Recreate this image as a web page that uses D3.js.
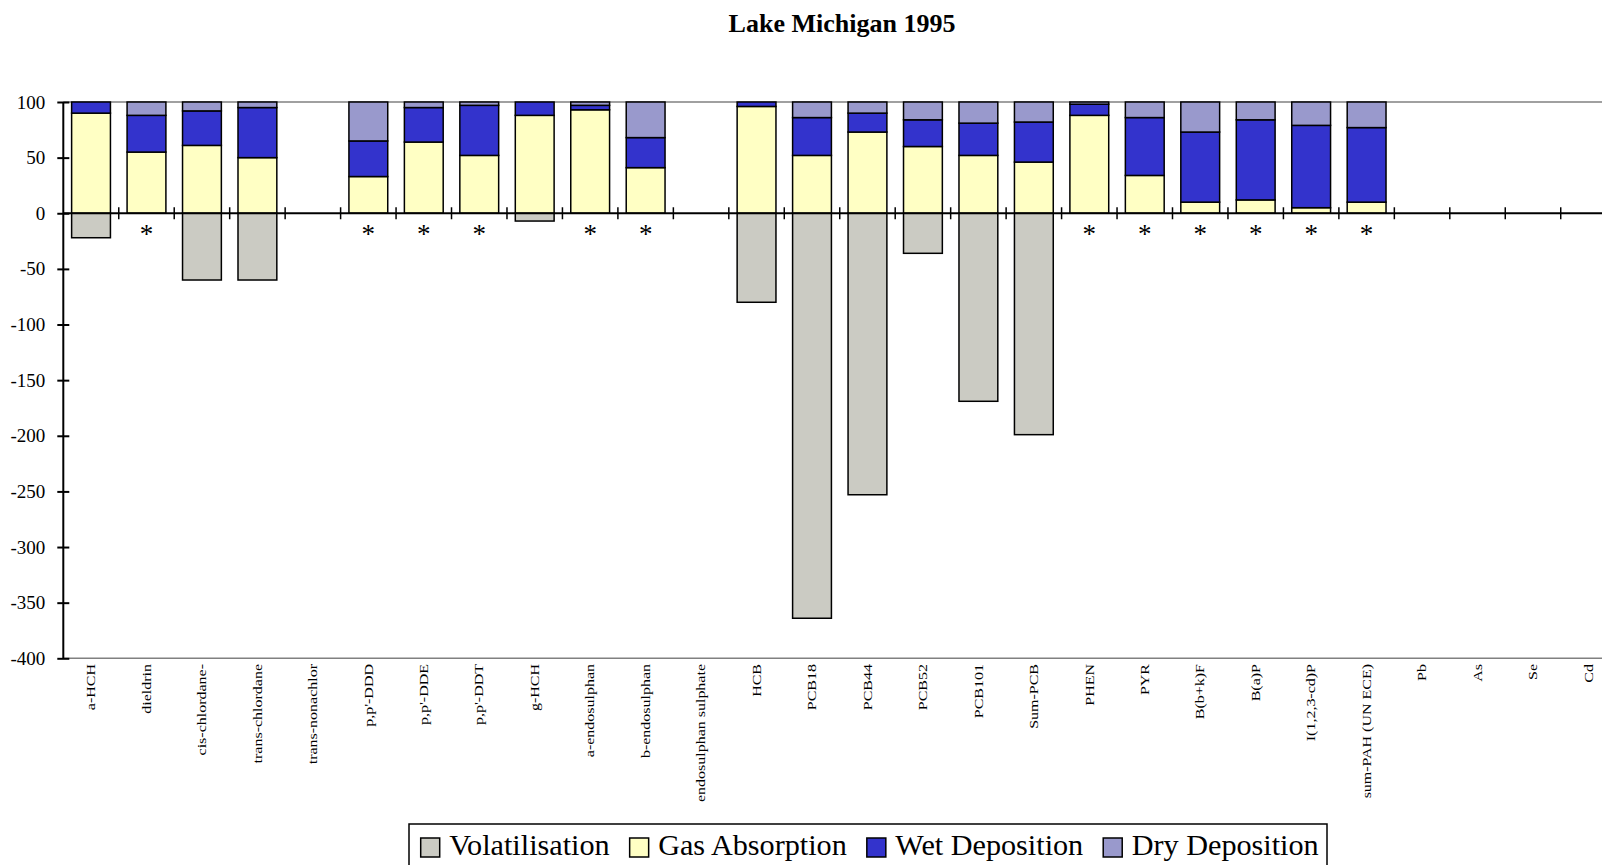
<!DOCTYPE html>
<html>
<head>
  <meta charset="utf-8">
  <title>Lake Michigan 1995</title>
  <script type="text/javascript" src="https://d3js.org/d3.v7.min.js"></script>
  <style>
    body { margin: 0; background: #fff; }
    text { font-family: "Times New Roman", "Liberation Serif", serif; fill: #000; }
  </style>
</head>
<body>
  <div class="chart"></div>

  <script type="text/javascript">
    // compounds along the x axis
    var categories = ["a-HCH", "dieldrin", "cis-chlordane-", "trans-chlordane", "trans-nonachlor",
      "p,p'-DDD", "p,p'-DDE", "p,p'-DDT", "g-HCH", "a-endosulphan", "b-endosulphan",
      "endosulphan sulphate", "HCB", "PCB18", "PCB44", "PCB52", "PCB101", "Sum-PCB",
      "PHEN", "PYR", "B(b+k)F", "B(a)P", "I(1,2,3-cd)P", "sum-PAH (UN ECE)", "Pb", "As", "Se", "Cd"];

    var volatilisation = [-22, 0, -60, -60, 0, 0, 0, 0, -7, 0, 0, 0, -80, -364, -253, -36, -169, -199, 0, 0, 0, 0, 0, 0, 0, 0, 0, 0];
    var gasAbsorption  = [90, 55, 61, 50, 0, 33, 64, 52, 88, 93, 41, 0, 96, 52, 73, 60, 52, 46, 88, 34, 10, 12, 5, 10, 0, 0, 0, 0];
    var wetDeposition  = [10, 33, 31, 45, 0, 32, 31, 45, 12, 4, 27, 0, 4, 34, 17, 24, 29, 36, 10, 52, 63, 72, 74, 67, 0, 0, 0, 0];
    var dryDeposition  = [0, 12, 8, 5, 0, 35, 5, 3, 0, 3, 32, 0, 0, 14, 10, 16, 19, 18, 2, 14, 27, 16, 21, 23, 0, 0, 0, 0];

    // compounds marked with an asterisk under the zero line
    var starred = ["dieldrin", "p,p'-DDD", "p,p'-DDE", "p,p'-DDT", "a-endosulphan", "b-endosulphan",
      "PHEN", "PYR", "B(b+k)F", "B(a)P", "I(1,2,3-cd)P", "sum-PAH (UN ECE)"];

    var yTicks = [100, 50, 0, -50, -100, -150, -200, -250, -300, -350, -400];

    var seriesNames = ["Volatilisation", "Gas Absorption", "Wet Deposition", "Dry Deposition"];
    var seriesColors = ["#cbcbc3", "#ffffc4", "#3333cc", "#9999cc"];

    const width = 1602;
    const height = 865;
    const left = 63.3;
    const step = 55.46;

    var rows = categories.map(function(c, i) {
      return {
        name: c,
        "Volatilisation": volatilisation[i],
        "Gas Absorption": gasAbsorption[i],
        "Wet Deposition": wetDeposition[i],
        "Dry Deposition": dryDeposition[i]
      };
    });

    var stacked = d3.stack()
      .keys(seriesNames)
      .offset(d3.stackOffsetDiverging)(rows);

    var x = d3.scaleBand()
      .domain(categories)
      .range([left, left + step * categories.length])
      .paddingInner(0.3)
      .paddingOuter(0.15);

    var y = d3.scaleLinear()
      .domain([-400, 100])
      .range([658.3, 102]);

    var color = d3.scaleOrdinal().domain(seriesNames).range(seriesColors);

    const svg = d3.select('.chart')
      .append('svg')
      .attr('width', width)
      .attr('height', height);

    // title
    svg.append("text")
      .attr("x", 842)
      .attr("y", 32)
      .attr("text-anchor", "middle")
      .attr("font-size", "26px")
      .attr("font-weight", "bold")
      .text("Lake Michigan 1995");

    // plot frame lines (top and bottom)
    svg.append("line")
      .attr("x1", left).attr("x2", width)
      .attr("y1", y(100)).attr("y2", y(100))
      .attr("stroke", "#808080").attr("stroke-width", 1.5);
    svg.append("line")
      .attr("x1", left).attr("x2", width)
      .attr("y1", y(-400)).attr("y2", y(-400))
      .attr("stroke", "#808080").attr("stroke-width", 1.5);

    // stacked bars
    svg.selectAll("g.series")
      .data(stacked)
      .enter()
      .append("g")
      .attr("class", "series")
      .attr("fill", d => color(d.key))
      .selectAll("rect")
      .data(d => d.filter(s => s[1] - s[0] != 0))
      .enter()
      .append("rect")
      .attr("x", d => x(d.data.name))
      .attr("y", d => y(d[1]))
      .attr("width", x.bandwidth())
      .attr("height", d => y(d[0]) - y(d[1]))
      .attr("stroke", "#000")
      .attr("stroke-width", 1.5);

    // zero line with category tick marks
    svg.append("line")
      .attr("x1", left).attr("x2", width)
      .attr("y1", y(0)).attr("y2", y(0))
      .attr("stroke", "#000").attr("stroke-width", 2);

    svg.selectAll("line.cattick")
      .data(categories.slice(1))
      .enter()
      .append("line")
      .attr("class", "cattick")
      .attr("x1", d => x(d) - x.step() * 0.15)
      .attr("x2", d => x(d) - x.step() * 0.15)
      .attr("y1", y(0) - 6)
      .attr("y2", y(0) + 6)
      .attr("stroke", "#000")
      .attr("stroke-width", 1.5);

    // asterisks
    svg.selectAll("text.star")
      .data(starred)
      .enter()
      .append("text")
      .attr("class", "star")
      .attr("x", d => x(d) + x.bandwidth() / 2)
      .attr("y", y(0) + 30)
      .attr("text-anchor", "middle")
      .attr("font-size", "27px")
      .attr("fill", "#222")
      .text("*");

    // y axis
    var yAxis = svg.append("g")
      .attr("transform", "translate(" + left + ",0)")
      .call(d3.axisLeft(y).tickValues(yTicks).tickFormat(d => String(d)).tickSize(6).tickPadding(12));
    yAxis.select(".domain")
      .attr("stroke", "#000").attr("stroke-width", 2)
      .attr("d", "M0," + y(100) + "V" + y(-400));
    yAxis.selectAll(".tick line")
      .attr("x1", 6)
      .attr("stroke", "#000").attr("stroke-width", 2);
    yAxis.selectAll(".tick text")
      .attr("font-size", "19px")
      .attr("font-family", "'Times New Roman', 'Liberation Serif', serif")
      .attr("fill", "#000");

    // category labels, rotated
    svg.selectAll("text.cat")
      .data(categories)
      .enter()
      .append("text")
      .attr("class", "cat")
      .attr("transform", d => "translate(" + (x(d) + x.bandwidth() / 2) + ",664) rotate(-90) scale(1,0.75)")
      .attr("text-anchor", "end")
      .attr("dy", "0.35em")
      .attr("font-size", "16px")
      .text(d => d);

    // legend
    var legend = svg.append("g");
    legend.append("rect")
      .attr("x", 409).attr("y", 824)
      .attr("width", 918).attr("height", 60)
      .attr("fill", "#fff")
      .attr("stroke", "#000").attr("stroke-width", 1.5);

    var lx = 420.7;
    seriesNames.forEach(function(name) {
      legend.append("rect")
        .attr("x", lx).attr("y", 838)
        .attr("width", 19).attr("height", 19)
        .attr("fill", color(name))
        .attr("stroke", "#000").attr("stroke-width", 1.5);
      var t = legend.append("text")
        .attr("x", lx + 28.5)
        .attr("y", 855)
        .attr("font-size", "30.2px")
        .text(name);
      lx = lx + 28.5 + t.node().getComputedTextLength() + 20;
    });
  </script>
</body>
</html>
